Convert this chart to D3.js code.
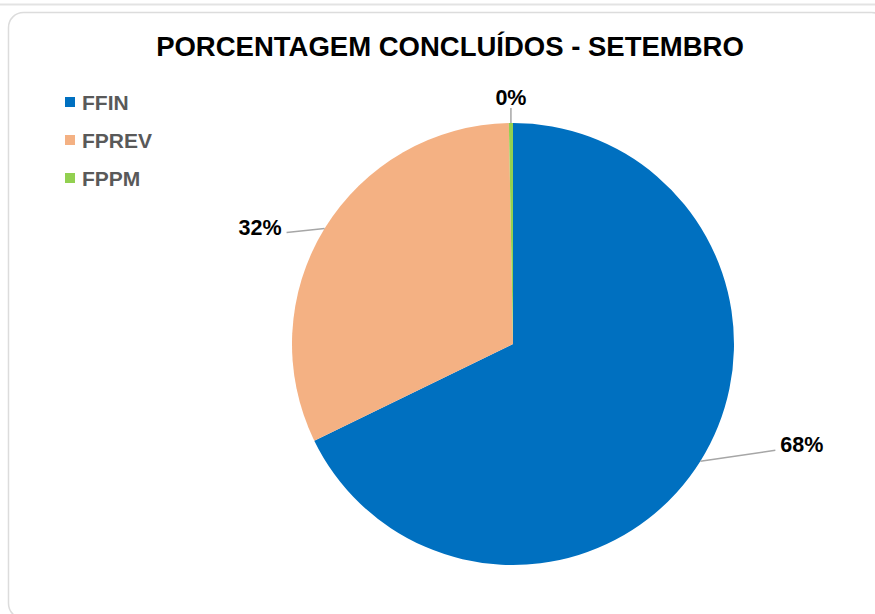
<!DOCTYPE html>
<html>
<head>
<meta charset="utf-8">
<script src="https://cdn.jsdelivr.net/npm/d3@7"></script>
<style>
  body { margin: 0; background: #fff; }
  svg { display: block; font-family: "Liberation Sans", Arial, sans-serif; }
</style>
</head>
<body>
<div id="chart"></div>
<script>
// data
const categories = ["FFIN", "FPREV", "FPPM"];
const values = [68, 32, 0.3];
const colors = ["#0070C0", "#F4B183", "#92D050"];
const title = "PORCENTAGEM CONCLUÍDOS - SETEMBRO";

const width = 875, height = 614;
const cx = 513, cy = 344, radius = 221;

// leader line offsets (from the slice edge) and label side
const leaderOffset = {
    FFIN: { dx: 75, dy: -11, anchor: "start" },
    FPREV: { dx: -38, dy: 4, anchor: "end" },
    FPPM: { dx: 0, dy: -15, anchor: "middle" }
};

const svg = d3.select("#chart")
    .append("svg")
    .attr("width", width)
    .attr("height", height);

// outer frame
svg.append("line")
    .attr("x1", 0).attr("x2", width)
    .attr("y1", 4.5).attr("y2", 4.5)
    .attr("stroke", "#e3e3e3")
    .attr("stroke-width", 2);

svg.append("rect")
    .attr("x", 8.5).attr("y", 12.5)
    .attr("width", 878).attr("height", 606)
    .attr("rx", 15).attr("ry", 15)
    .attr("fill", "#fff")
    .attr("stroke", "#dcdcdc")
    .attr("stroke-width", 1.5);

// title
svg.append("text")
    .attr("x", 450)
    .attr("y", 56)
    .attr("text-anchor", "middle")
    .attr("font-size", 27.5)
    .attr("font-weight", "bold")
    .attr("fill", "#000")
    .text(title);

const data = categories.map((c, i) => ({ name: c, value: values[i], color: colors[i] }));
const total = d3.sum(values);

const pie = d3.pie().sort(null).value(d => d.value);
const arc = d3.arc().innerRadius(0).outerRadius(radius);
const arcs = pie(data);

const g = svg.append("g").attr("transform", `translate(${cx},${cy})`);

g.selectAll("path.slice")
    .data(arcs)
    .enter()
    .append("path")
    .attr("class", "slice")
    .attr("d", arc)
    .attr("fill", d => d.data.color);

// leader lines + labels
const edgePoint = d => {
    const a = (d.startAngle + d.endAngle) / 2;
    return [radius * Math.sin(a), -radius * Math.cos(a)];
};

const labels = g.selectAll("g.label")
    .data(arcs)
    .enter()
    .append("g")
    .attr("class", "label");

labels.append("line")
    .attr("x1", d => edgePoint(d)[0])
    .attr("y1", d => edgePoint(d)[1])
    .attr("x2", d => edgePoint(d)[0] + leaderOffset[d.data.name].dx)
    .attr("y2", d => edgePoint(d)[1] + leaderOffset[d.data.name].dy)
    .attr("stroke", "#a6a6a6")
    .attr("stroke-width", 1.5);

labels.append("text")
    .attr("x", d => {
        const o = leaderOffset[d.data.name];
        const x = edgePoint(d)[0] + o.dx;
        return o.anchor === "start" ? x + 5 : o.anchor === "end" ? x - 5 : x;
    })
    .attr("y", d => {
        const o = leaderOffset[d.data.name];
        const y = edgePoint(d)[1] + o.dy;
        return o.anchor === "middle" ? y - 3 : y + 2;
    })
    .attr("text-anchor", d => leaderOffset[d.data.name].anchor)
    .attr("font-size", 21.5)
    .attr("font-weight", "bold")
    .attr("fill", "#000")
    .text(d => d3.format(".0%")(d.data.value / total));

// legend
const legend = svg.selectAll("g.legend")
    .data(data)
    .enter()
    .append("g")
    .attr("class", "legend")
    .attr("transform", (d, i) => `translate(65, ${102 + i * 38})`);

legend.append("rect")
    .attr("x", 0).attr("y", -5)
    .attr("width", 10).attr("height", 10)
    .attr("fill", d => d.color);

legend.append("text")
    .attr("x", 17)
    .attr("y", 7.5)
    .attr("font-size", 21)
    .attr("font-weight", "bold")
    .attr("fill", "#595959")
    .text(d => d.name);
</script>
</body>
</html>
